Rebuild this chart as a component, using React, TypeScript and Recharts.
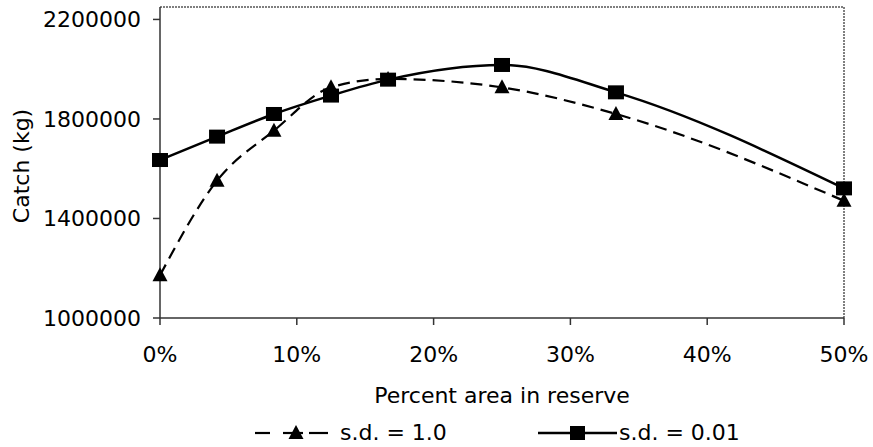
import React from 'react';
import { LineChart, Line, XAxis, YAxis, ReferenceLine, Legend } from 'recharts';

// percent of area in reserve (x) and catch for the two s.d. runs
const percentReserve = [0, 4.17, 8.33, 12.5, 16.67, 25, 33.33, 50];
const catchSd1 = [1172000, 1552000, 1753000, 1927000, 1961000, 1927000, 1820000, 1471000];
const catchSd001 = [1635000, 1729000, 1820000, 1894000, 1958000, 2017000, 1907000, 1521000];
const xTicks = [0, 10, 20, 30, 40, 50];
const yTicks = [1000000, 1400000, 1800000, 2200000];

const data = percentReserve.map((p, i) => ({ p, sd1: catchSd1[i], sd001: catchSd001[i] }));

const FONT = '"DejaVu Sans", sans-serif';
const FS = 22;

const TriangleDot = (props: any) => {
  const { cx, cy, index } = props;
  if (cx == null || cy == null) return null;
  return (
    <path
      key={`tri-${index}`}
      d={`M${cx},${cy - 8}L${cx + 7.5},${cy + 6}L${cx - 7.5},${cy + 6}Z`}
      fill="#000"
    />
  );
};

const SquareDot = (props: any) => {
  const { cx, cy, index } = props;
  if (cx == null || cy == null) return null;
  return <rect key={`sq-${index}`} x={cx - 8} y={cy - 7} width={16} height={14} fill="#000" />;
};

const LegendBox = () => (
  <svg width={873} height={30} style={{ display: 'block', fontFamily: FONT }}>
    <g stroke="#000" strokeWidth={2.2}>
      <line x1={255} y1={15} x2={270} y2={15} />
      <line x1={283} y1={15} x2={303} y2={15} />
      <line x1={309} y1={15} x2={328} y2={15} />
    </g>
    <path d="M296,7L303.5,21L288.5,21Z" fill="#000" />
    <text x={340} y={22} fontSize={FS} fill="#000">s.d. = 1.0</text>
    <line x1={538} y1={15} x2={617} y2={15} stroke="#000" strokeWidth={2.5} />
    <rect x={570} y={8} width={15} height={14} fill="#000" />
    <text x={619} y={22} fontSize={FS} fill="#000">s.d. = 0.01</text>
  </svg>
);

export default function App() {
  return (
    <div style={{ position: 'absolute', left: 0, top: 0, background: '#fff' }}>
      <LineChart
        width={873}
        height={447}
        data={data}
        margin={{ top: 7, right: 29, bottom: 0, left: 0 }}
        style={{ fontFamily: FONT }}
      >
        <XAxis
          dataKey="p"
          type="number"
          domain={[0, 50]}
          ticks={xTicks}
          tickFormatter={(v: number) => `${v}%`}
          height={129}
          tickSize={7}
          tickMargin={21}
          tick={{ fill: '#000', fontSize: FS }}
          axisLine={{ stroke: '#333', strokeWidth: 1.5 }}
          tickLine={{ stroke: '#333', strokeWidth: 1.5 }}
          label={{
            content: (p: any) => {
              const vb = p.viewBox || {};
              return (
                <text x={vb.x + vb.width / 2} y={vb.y + 85} textAnchor="middle" fontSize={FS} fill="#000">
                  Percent area in reserve
                </text>
              );
            },
          }}
        />
        <YAxis
          type="number"
          domain={[1000000, 2250000]}
          ticks={yTicks}
          width={160}
          tickSize={7}
          tickMargin={12}
          tick={{ fill: '#000', fontSize: FS }}
          axisLine={{ stroke: '#333', strokeWidth: 1.5 }}
          tickLine={{ stroke: '#333', strokeWidth: 1.5 }}
          label={{
            content: () => (
              <text x={28.5} y={166} textAnchor="middle" fontSize={FS} fill="#000" transform="rotate(-90, 28.5, 166)">
                Catch (kg)
              </text>
            ),
          }}
        />
        <ReferenceLine y={2250000} stroke="#555" strokeWidth={1.5} strokeDasharray="2 1" />
        <ReferenceLine x={50} stroke="#555" strokeWidth={1.5} strokeDasharray="2 1" />
        <Legend
          layout="horizontal"
          verticalAlign="middle"
          align="center"
          wrapperStyle={{ left: 0, top: 418, width: 873, height: 30 }}
          content={() => <LegendBox />}
        />
        <Line
          type="monotone"
          dataKey="sd1"
          name="s.d. = 1.0"
          stroke="#000"
          strokeWidth={2.2}
          strokeDasharray="12 7"
          dot={TriangleDot}
          activeDot={false}
          isAnimationActive={false}
        />
        <Line
          type="monotone"
          dataKey="sd001"
          name="s.d. = 0.01"
          stroke="#000"
          strokeWidth={2.5}
          dot={SquareDot}
          activeDot={false}
          isAnimationActive={false}
        />
      </LineChart>
    </div>
  );
}
